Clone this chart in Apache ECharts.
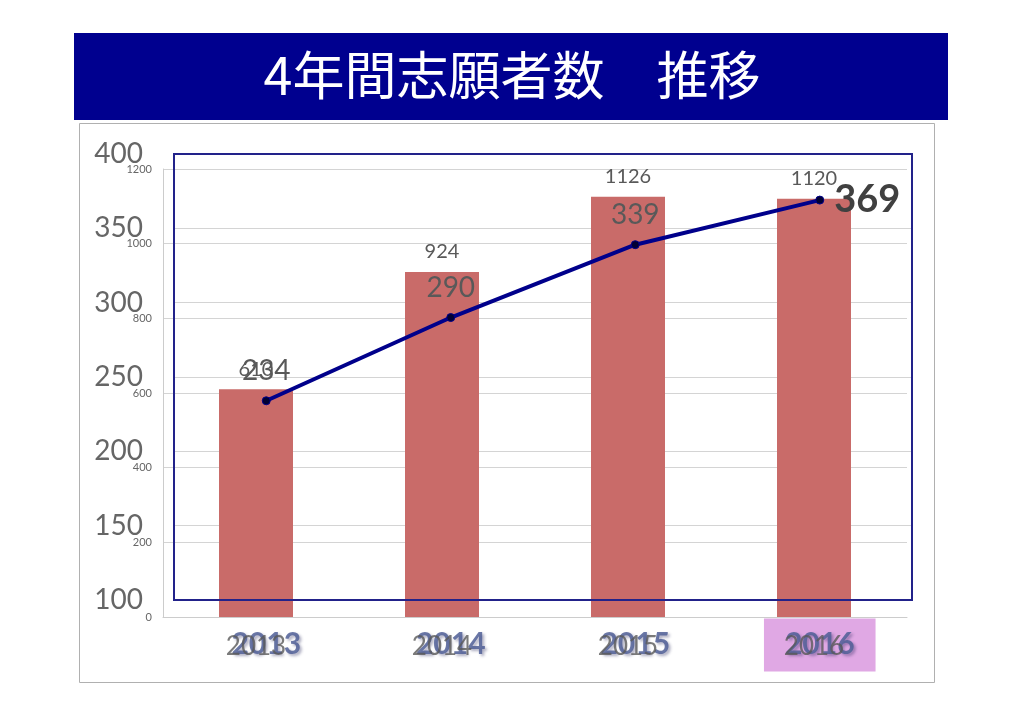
<!DOCTYPE html>
<html>
<head>
<meta charset="utf-8">
<script src="https://cdn.jsdelivr.net/npm/echarts@6/dist/echarts.min.js"></script>
<style>html,body{margin:0;padding:0;background:#fff}#c{width:1024px;height:724px}</style>
</head>
<body>
<div id="c"></div>
<script>
const titleText = '4年間志願者数　推移';
const years = ['2013', '2014', '2015', '2016'];
const applicants = [610, 924, 1126, 1120];      // bars (small axis 0–1200)
const trendValues = [234, 290, 339, 369];       // line (large axis 100–400)
const barAxisTicks = { min: 0, max: 1200, interval: 200 };
const lineAxisTicks = { min: 100, max: 400, interval: 50 };
const highlightIndex = 3;

const chart = echarts.init(document.getElementById('c'));
const labelFont = 'Lato, "Open Sans", sans-serif';

const lineData = trendValues.map((v, i) => i === trendValues.length - 1 ? {
  value: v,
  label: { position: 'right', distance: 10, fontSize: 38, fontWeight: 'bold', color: '#404040' }
} : v);

const richBase = {
  fontSize: 30, fontWeight: 'bold', fontFamily: labelFont, color: 'rgba(80,95,150,0.85)',
  lineHeight: 30, padding: [11, 21, 12, 21],
  textShadowColor: 'rgba(40,40,90,0.45)', textShadowBlur: 3, textShadowOffsetX: 2, textShadowOffsetY: 2
};

chart.setOption({
  animation: false,
  backgroundColor: '#fff',
  graphic: [
    { type: 'rect', shape: { x: 74, y: 33, width: 874, height: 87 }, style: { fill: '#00008f' }, z: -10 },
    { type: 'rect', shape: { x: 79.5, y: 123.5, width: 855, height: 559 }, style: { fill: 'none', stroke: '#b0b0b0', lineWidth: 1 }, z: -10 }
  ],
  title: {
    text: titleText, left: 'center', top: 44,
    textStyle: { color: '#fff', fontSize: 52, fontWeight: 'normal', fontFamily: '"Noto Sans CJK JP", sans-serif' }
  },
  grid: [
    { left: 163, top: 169, width: 744, height: 448 },
    { left: 174, top: 154, width: 738, height: 446, show: true, borderColor: '#22228a', borderWidth: 2, backgroundColor: 'transparent', z: 5 }
  ],
  xAxis: [
    {
      type: 'category', data: years, gridIndex: 0, z: 4,
      axisLine: { show: true, lineStyle: { color: '#cccccc' } }, axisTick: { show: false },
      axisLabel: { margin: 17, fontSize: 26, color: 'rgba(89,89,89,0.8)', fontFamily: labelFont }
    },
    {
      type: 'category', data: years, gridIndex: 1, z: 3,
      axisLine: { show: false }, axisTick: { show: false }, splitLine: { show: false },
      axisLabel: {
        margin: 30,
        formatter: (v, i) => i === highlightIndex ? '{hl|' + v + '}' : '{n|' + v + '}',
        rich: {
          n: Object.assign({}, richBase),
          hl: Object.assign({}, richBase, { backgroundColor: '#e0a8e4' })
        }
      }
    }
  ],
  yAxis: [
    {
      type: 'value', gridIndex: 0, min: barAxisTicks.min, max: barAxisTicks.max, interval: barAxisTicks.interval,
      axisLine: { show: true, lineStyle: { color: '#cccccc' } }, axisTick: { show: false },
      splitLine: { lineStyle: { color: '#d4d4d4' } },
      axisLabel: { margin: 11, fontSize: 11, color: '#666', fontFamily: labelFont, formatter: v => String(v) }
    },
    {
      type: 'value', gridIndex: 1, min: lineAxisTicks.min, max: lineAxisTicks.max, interval: lineAxisTicks.interval,
      axisLine: { show: false }, axisTick: { show: false },
      splitLine: { lineStyle: { color: '#d4d4d4' } },
      axisLabel: { margin: 31, fontSize: 28, color: '#666', fontFamily: labelFont }
    }
  ],
  series: [
    {
      type: 'bar', xAxisIndex: 0, yAxisIndex: 0, data: applicants, barWidth: 74,
      itemStyle: { color: '#c96b69' },
      label: { show: true, position: 'top', distance: 10, fontSize: 20, color: '#595959', fontFamily: labelFont }
    },
    {
      type: 'line', xAxisIndex: 1, yAxisIndex: 1, data: lineData, z: 10,
      lineStyle: { color: '#00008b', width: 4 },
      symbol: 'circle', symbolSize: 8, itemStyle: { color: '#000033', borderColor: '#00008b', borderWidth: 1 },
      label: { show: true, position: 'top', distance: 11, fontSize: 28, color: '#595959', fontFamily: labelFont }
    }
  ]
});
</script>
</body>
</html>
